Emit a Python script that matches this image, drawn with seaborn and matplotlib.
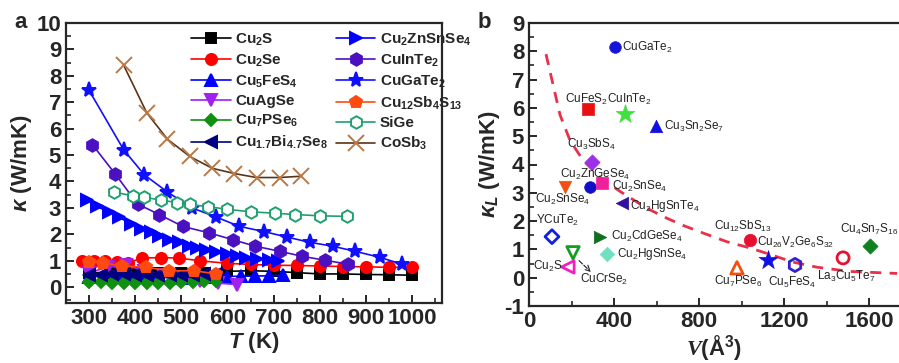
import seaborn as sns
import matplotlib.pyplot as plt
from matplotlib.ticker import MultipleLocator

# ---- panel a: thermal conductivity vs temperature ----
cu2s_T = [300, 350, 400, 450, 500, 550, 600, 650, 700, 750, 800, 850, 900, 950, 1000]
cu2s_k = [0.55, 0.55, 0.55, 0.55, 0.55, 0.55, 0.6, 0.62, 0.6, 0.55, 0.5, 0.5, 0.48, 0.47, 0.45]

cu2se_T = [285, 310, 335, 360, 385, 415, 455, 495, 540, 600, 650, 700, 750, 800, 850, 900, 950, 1000]
cu2se_k = [1.0, 1.0, 0.98, 0.95, 0.93, 1.1, 1.12, 1.1, 1.0, 0.9, 0.86, 0.83, 0.82, 0.8, 0.78, 0.77, 0.75, 0.75]

cu5fes4_T = [300, 330, 360, 390, 420, 450, 480, 510, 540, 570, 600, 630, 660, 690, 720]
cu5fes4_k = [0.4, 0.4, 0.38, 0.38, 0.37, 0.37, 0.36, 0.36, 0.37, 0.38, 0.4, 0.42, 0.42, 0.43, 0.45]

cuagse_T = [300, 340, 380, 420, 460, 500, 540, 580, 620]
cuagse_k = [0.55, 0.75, 0.85, 0.6, 0.45, 0.35, 0.25, 0.15, 0.1]

cu7pse6_T = [300, 325, 350, 375, 400, 425, 450, 475, 500, 525, 550, 575]
cu7pse6_k = [0.2, 0.18, 0.17, 0.17, 0.16, 0.16, 0.16, 0.17, 0.18, 0.2, 0.22, 0.25]

cubise_T = [300, 325, 350, 375, 400, 425, 450, 475, 500, 525, 550, 575]
cubise_k = [0.45, 0.47, 0.48, 0.48, 0.47, 0.46, 0.46, 0.45, 0.45, 0.46, 0.48, 0.5]

czts_T = [296, 317, 343, 365, 391, 413, 435, 452, 474, 496, 517, 535, 554, 576, 598, 620, 641, 665, 690, 710]
czts_k = [3.3, 3.06, 2.83, 2.64, 2.4, 2.2, 2.1, 1.93, 1.8, 1.7, 1.57, 1.5, 1.42, 1.33, 1.25, 1.18, 1.12, 1.08, 1.04, 1.0]

cuinte2_T = [307, 356, 405, 452, 503, 561, 611, 660, 713, 761, 811, 861]
cuinte2_k = [5.4, 4.3, 3.15, 2.75, 2.3, 2.05, 1.8, 1.55, 1.36, 1.17, 1.02, 0.87]

cugate2_T = [300, 375, 420, 470, 523, 576, 626, 680, 728, 778, 828, 876, 930, 978]
cugate2_k = [7.45, 5.2, 4.25, 3.6, 3.0, 2.65, 2.3, 2.1, 1.9, 1.7, 1.55, 1.36, 1.13, 0.87]

tetra_T = [300, 330, 372, 424, 474, 528, 576]
tetra_k = [0.95, 0.92, 0.8, 0.75, 0.62, 0.62, 0.5]

sige_T = [355, 395, 420, 455, 490, 518, 557, 598, 651, 702, 746, 800, 858]
sige_k = [3.6, 3.45, 3.4, 3.3, 3.2, 3.13, 3.05, 2.95, 2.85, 2.8, 2.75, 2.7, 2.68]

cosb3_T = [375, 425, 470, 518, 567, 615, 663, 713, 760]
cosb3_k = [8.4, 6.6, 5.6, 4.95, 4.5, 4.3, 4.15, 4.15, 4.2]

# ---- panel b: lattice thermal conductivity vs cell volume ----
comp_names = ['CuGaTe$_2$', 'CuFeS$_2$', 'CuInTe$_2$', 'Cu$_3$Sn$_2$Se$_7$', 'Cu$_3$SbS$_4$',
              'Cu$_2$ZnGeSe$_4$', 'Cu$_2$SnSe$_4$', 'Cu$_2$SnSe$_4$', 'Cu$_2$HgSnTe$_4$', 'YCuTe$_2$',
              'Cu$_2$CdGeSe$_4$', 'Cu$_2$HgSnSe$_4$', 'CuCrSe$_2$', 'Cu$_2$S', 'Cu$_{12}$SbS$_{13}$',
              'Cu$_{26}$V$_2$Ge$_6$S$_{32}$', 'Cu$_5$FeS$_4$', 'Cu$_7$PSe$_6$', 'La$_3$Cu$_5$Te$_7$',
              'Cu$_4$Sn$_7$S$_{16}$']
comp_V = [405, 278, 452, 597, 296, 287, 169, 343, 437, 108, 334, 367, 207, 183, 1040, 1124, 1251, 978, 1477, 1604]
comp_kL = [8.15, 5.95, 5.77, 5.35, 4.1, 3.22, 3.22, 3.35, 2.65, 1.45, 1.45, 0.85, 0.88, 0.38, 1.34, 0.63, 0.45, 0.35, 0.7, 1.13]

fit_V = [80, 146, 193, 254, 334, 428, 555, 649, 724, 818, 931, 1040, 1134, 1242, 1355, 1510, 1731]
fit_kL = [7.9, 5.75, 4.85, 4.15, 3.55, 3.05, 2.45, 2.1, 1.85, 1.58, 1.27, 1.05, 0.82, 0.55, 0.37, 0.22, 0.15]

sns.set_style('ticks')
plt.rcParams['font.family'] = ['Liberation Sans', 'DejaVu Sans']
plt.rcParams['font.weight'] = 'bold'
plt.rcParams['axes.labelweight'] = 'bold'
plt.rcParams['mathtext.fontset'] = 'custom'
plt.rcParams['mathtext.it'] = 'Liberation Sans:italic:bold'
plt.rcParams['mathtext.cal'] = 'Liberation Serif:italic'
plt.rcParams['mathtext.default'] = 'regular'
plt.rcParams['axes.unicode_minus'] = False
plt.rcParams['xtick.direction'] = 'in'
plt.rcParams['ytick.direction'] = 'in'

fig = plt.figure(figsize=(8.99, 3.63), dpi=100)
ax1 = fig.add_axes([66 / 899, 1 - 303 / 363, 376 / 899, 280 / 363])
ax2 = fig.add_axes([529 / 899, 1 - 306 / 363, 370 / 899, 283 / 363])

series = [
    ('Cu$_2$S', cu2s_T, cu2s_k, 's', 'black', None, 7),
    ('Cu$_2$Se', cu2se_T, cu2se_k, 'o', '#ff0000', None, 8),
    ('Cu$_5$FeS$_4$', cu5fes4_T, cu5fes4_k, '^', '#0000ff', None, 8),
    ('CuAgSe', cuagse_T, cuagse_k, 'v', '#a020f0', None, 8),
    ('Cu$_7$PSe$_6$', cu7pse6_T, cu7pse6_k, 'D', '#109010', None, 6.5),
    ('Cu$_{1.7}$Bi$_{4.7}$Se$_8$', cubise_T, cubise_k, '<', '#000080', None, 8),
    ('Cu$_2$ZnSnSe$_4$', czts_T, czts_k, '>', '#0000ff', None, 8),
    ('CuInTe$_2$', cuinte2_T, cuinte2_k, 'h', '#4b10c0', None, 9),
    ('CuGaTe$_2$', cugate2_T, cugate2_k, '*', '#1010ff', None, 11),
    ('Cu$_{12}$Sb$_4$S$_{13}$', tetra_T, tetra_k, 'p', '#ff4a10', None, 9),
    ('SiGe', sige_T, sige_k, 'h', '#1fa070', 'white', 9),
    ('CoSb$_3$', cosb3_T, cosb3_k, 'x', '#5a3418', None, 11),
]

for lab, T, k, m, c, fc, ms in series:
    mec = '#b87a48' if lab.startswith('CoSb') else c
    sns.lineplot(x=T, y=k, ax=ax1, color=c, marker=m, markersize=ms,
                 markerfacecolor=fc if fc else c, markeredgecolor=mec,
                 markeredgewidth=1.4, linewidth=1.2, label=lab,
                 sort=False, estimator=None)

ax1.legend(ncol=2, loc='upper left', bbox_to_anchor=(0.31, 1.0), frameon=False,
           fontsize=11, handlelength=2.6, handletextpad=0.3, columnspacing=0.5,
           labelspacing=0.3, borderaxespad=0.15)
ax1.set_xlim(250, 1065)
ax1.set_ylim(-0.6, 10)
ax1.xaxis.set_major_locator(MultipleLocator(100))
ax1.xaxis.set_minor_locator(MultipleLocator(50))
ax1.yaxis.set_major_locator(MultipleLocator(1))
ax1.yaxis.set_minor_locator(MultipleLocator(0.5))
ax1.set_xlabel(r'$\mathit{T}$ (K)', fontsize=16, labelpad=1)
ax1.set_ylabel(r'$\mathit{\kappa}$ (W/mK)', fontsize=16, labelpad=2)

# panel b
sns.lineplot(x=fit_V, y=fit_kL, ax=ax2, color='#e8304a', linewidth=2,
             linestyle=(0, (4, 3)), sort=False, estimator=None)

styles = [
    ('o', '#1515d8', True, 70), ('s', '#e81010', True, 70), ('*', '#40e040', True, 200),
    ('^', '#1010e0', True, 80), ('D', '#9a30e8', True, 60), ('o', '#1010c8', True, 70),
    ('v', '#f05010', True, 80), ('s', '#f0209a', True, 70), ('<', '#3010a0', True, 80),
    ('D', '#1020e0', False, 50), ('>', '#107020', True, 80), ('D', '#70e0c0', True, 55),
    ('v', '#10a020', False, 80), ('<', '#f020c0', False, 80), ('o', '#e81030', True, 80),
    ('*', '#1010e0', True, 200), ('h', '#3020d0', False, 90), ('^', '#f05010', False, 80),
    ('o', '#e81030', False, 75), ('D', '#108020', True, 60),
]
# label offsets in pixels (dx, dy), text left edge / vertical centre
offsets = [(7, 0), (-23, 10), (-18, 15), (8, 0), (-25, 17), (-30, 12), (-30, -13), (10, -4),
           (8, -3), (-16, 16), (11, 0), (10, 0), (7, -27), (-6, 0), (-36, 13), (-11, 17),
           (-27, -17), (-23, -14), (-26, -19), (-30, 16)]

for name, v, kl, (m, c, filled, s), (dx, dy) in zip(comp_names, comp_V, comp_kL, styles, offsets):
    sns.scatterplot(x=[v], y=[kl], ax=ax2, marker=m, s=s,
                    facecolor=c if filled else 'none', edgecolor=c,
                    linewidth=0.5 if filled else 2.0, zorder=3)
    ax2.annotate(name, (v, kl), xytext=(dx, dy), textcoords='offset pixels',
                 ha='right' if name == 'Cu$_2$S' else 'left', va='center',
                 fontsize=8.5, fontweight='normal', color='#222222')

ax2.annotate('', xy=(301, 0.13), xytext=(226, 0.67),
             arrowprops=dict(arrowstyle='->', linestyle='--', color='#333333', lw=0.9))

ax2.set_xlim(0, 1740)
ax2.set_ylim(-1, 9)
ax2.xaxis.set_major_locator(MultipleLocator(400))
ax2.xaxis.set_minor_locator(MultipleLocator(200))
ax2.yaxis.set_major_locator(MultipleLocator(1))
ax2.yaxis.set_minor_locator(MultipleLocator(0.5))
ax2.spines['right'].set_visible(False)
ax2.set_xlabel(r'$\mathcal{V}$(Å$^3$)', fontsize=16, labelpad=1)
ax2.set_ylabel(r'$\mathit{\kappa_L}$ (W/mK)', fontsize=16, labelpad=2)

for ax in (ax1, ax2):
    for sp in ax.spines.values():
        sp.set_linewidth(1.6)
    ax.tick_params(which='major', length=6, width=1.4, labelsize=16)
    ax.tick_params(which='minor', length=3.5, width=1.2)

fig.text(14 / 899, 1 - 23 / 363, 'a', fontsize=16, fontweight='bold', va='center')
fig.text(478 / 899, 1 - 23 / 363, 'b', fontsize=16, fontweight='bold', va='center')

fig.savefig('out.png', dpi=100)
